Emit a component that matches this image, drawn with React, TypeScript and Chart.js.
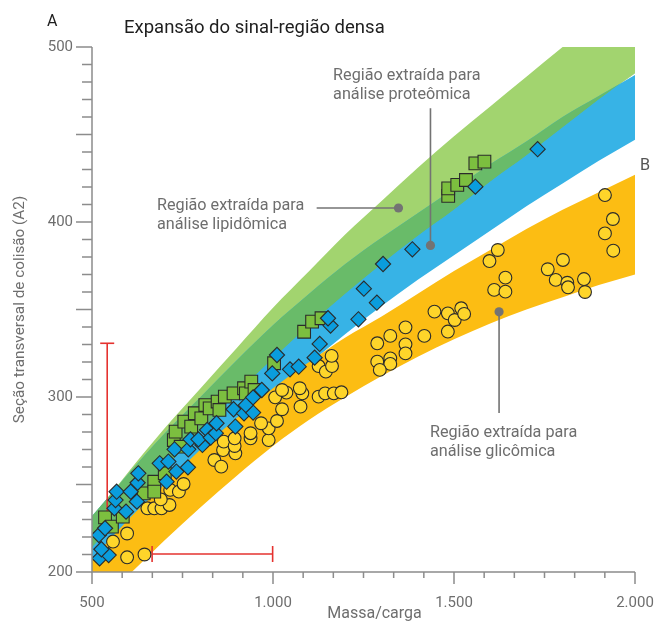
import React, { useEffect, useRef } from 'react';
import { Chart, registerables } from 'chart.js';

Chart.register(...registerables);

// Mass grid shared by every band outline
const bandMass = [500, 600, 700, 800, 900, 1000, 1100, 1200, 1300, 1400, 1500, 1600, 1700, 1800, 1900, 2000];
const lipidUpper = [231, 257, 282, 305, 328, 351, 372, 393, 412, 431, 449, 466, 483, 500, 516, 531];
const lipidLower = [214, 237, 259, 281, 302, 322, 341, 359, 376, 392, 407, 423, 438, 454, 470, 485];
const proteinUpper = [232, 256, 279, 300, 321, 341, 359, 376, 391, 405, 419, 433, 446, 460, 472, 484];
const proteinLower = [203, 224, 244, 264, 283, 301, 319, 336, 352, 367, 381, 395, 409, 422, 435, 447];
const glycanUpper = [207, 230, 250, 270, 288, 305, 320, 334, 346, 359, 372, 384, 396, 407, 417, 427];
const glycanLower = [178, 198, 218, 237, 255, 272, 287, 300, 312, 323, 333, 342, 350, 357, 364, 370];

// Lipids (squares)
const lipidMass = [536, 555, 585, 643, 672, 672, 701, 726, 745, 731, 755, 774, 784, 802, 813, 825, 847, 852, 867, 891, 920, 925, 940, 949, 1003, 1086, 1108, 1134, 1484, 1484, 1509, 1533, 1559, 1584];
const lipidCcs = [231.2, 225.9, 231.6, 244.9, 251.6, 245.9, 256.4, 275.4, 271.6, 280.2, 285.9, 283.1, 290.7, 287.8, 295.4, 293.5, 297.4, 292.6, 300.2, 302.1, 305, 302.1, 308.8, 304, 319.3, 337.3, 343.1, 345, 414.9, 419.2, 421.2, 424, 433.5, 434.5];

// Peptides (diamonds)
const peptideMass = [521, 546, 526, 519, 536, 562, 594, 565, 568, 607, 624, 626, 628, 687, 711, 733, 765, 706, 728, 766, 772, 805, 794, 818, 828, 842, 844, 891, 920, 945, 896, 925, 945, 969, 998, 1011, 1047, 1071, 1115, 1129, 1159, 1152, 1236, 1287, 1251, 1304, 1385, 1559, 1731];
const peptideCcs = [207.8, 209.7, 213, 221.1, 225, 236.4, 234.5, 241.1, 245.9, 245.9, 240.2, 251, 256.4, 262.1, 263.1, 257.4, 259.8, 251.6, 270.1, 270.1, 275.8, 272.6, 275.8, 281.2, 276.8, 279.3, 285, 293, 290.7, 291.1, 283.1, 295.4, 299.8, 304, 313.5, 324, 315.8, 317.3, 322.5, 330.3, 340.8, 345, 344.4, 353.9, 361.9, 376, 384.4, 420.2, 441.6];

// Glycans (circles)
const glycanMass = [597, 645, 558, 597, 653, 672, 692, 714, 690, 716, 740, 753, 838, 857, 862, 864, 896, 894, 894, 938, 938, 988, 988, 967, 1011, 1025, 1006, 1037, 1025, 1076, 1081, 1074, 1126, 1144, 1168, 1189, 1126, 1146, 1163, 1162, 1288, 1324, 1366, 1366, 1366, 1324, 1324, 1288, 1295, 1418, 1446, 1483, 1502, 1520, 1528, 1483, 1598, 1621, 1642, 1611, 1642, 1759, 1801, 1781, 1813, 1815, 1859, 1862, 1917, 1939, 1917, 1940];
const glycanCcs = [208.4, 210, 217.4, 222, 236.4, 236.4, 236.4, 238.3, 241.5, 246.9, 245.9, 250.3, 264, 260.2, 269.7, 274.5, 267.8, 272, 276.4, 276.4, 279.3, 275.4, 282.1, 285, 286.3, 293, 299.8, 302.5, 304, 294.5, 302.1, 305, 300.2, 302.1, 302.1, 302.7, 317.7, 314.5, 317.7, 323.5, 330.7, 334.9, 339.8, 330.1, 324.9, 322.1, 318.9, 320.2, 315.5, 334.9, 348.8, 347.8, 344, 350.7, 347.5, 337.4, 377.7, 384, 368.2, 361.2, 360.2, 373, 378.3, 366.9, 365.3, 362.7, 367.4, 360, 415.4, 401.7, 393.5, 383.6];

// Error bars
const ccsErrorMass = [542, 542];
const ccsErrorCcs = [231, 330.7];
const massErrorMass = [666, 999];
const massErrorCcs = [210.3, 210.3];

// Callout leaders (second point carries the dot)
const proteinLeaderMass = [1435, 1435];
const proteinLeaderCcs = [465, 386.6];
const lipidLeaderMass = [1120.6, 1346.6];
const lipidLeaderCcs = [408, 408];
const glycanLeaderMass = [1624.5, 1624.5];
const glycanLeaderCcs = [290.9, 348.7];

const xTicks = [500, 1000, 1500, 2000];
const yTicks = [200, 300, 400, 500];

const panelLetter = 'A';
const sideLetter = 'B';
const chartTitle = 'Expansão do sinal-região densa';
const xTitle = 'Massa/carga';
const yTitle = 'Seção transversal de colisão (A2)';

const regionLabels = [
  { lines: ['Região extraída para', 'análise proteômica'], mass: 1166, ccs: 480.9 },
  { lines: ['Região extraída para', 'análise lipidômica'], mass: 679.5, ccs: 406.6 },
  { lines: ['Região extraída para', 'análise glicômica'], mass: 1433.6, ccs: 277 },
];

const FONT = 'Roboto, "Noto Sans", sans-serif';
const AXIS_GRAY = '#8c8c8c';
const TEXT_GRAY = '#6e6e6e';
const LEADER_GRAY = '#737373';
const RED = '#e5322f';

const C = {
  lightGreen: '#a2d46f',
  darkGreen: '#69bb69',
  blue: '#37b3e6',
  orange: '#fcbd13',
  square: '#7cbf3f',
  diamond: '#0a9ddd',
  circle: '#fed52a',
  edge: '#2b2b2b',
};

const pts = (xs: number[], ys: number[]) => xs.map((x, i) => ({ x, y: ys[i] }));
const thousands = (v: number) => String(Math.round(v)).replace(/\B(?=(\d{3})+(?!\d))/g, '.');

const outline = (data: number[], order: number, fill: any = false) => ({
  type: 'line' as const,
  data: pts(bandMass, data),
  borderColor: 'rgba(0,0,0,0)',
  borderWidth: 0,
  pointRadius: 0,
  pointHoverRadius: 0,
  cubicInterpolationMode: 'monotone' as const,
  fill,
  backgroundColor: 'rgba(0,0,0,0)',
  order,
});

const leader = (xs: number[], ys: number[], order: number) => ({
  type: 'line' as const,
  data: pts(xs, ys),
  borderColor: LEADER_GRAY,
  borderWidth: 1.6,
  pointRadius: [0, 4.6],
  pointHoverRadius: [0, 4.6],
  pointBackgroundColor: LEADER_GRAY,
  pointBorderColor: LEADER_GRAY,
  pointBorderWidth: 0,
  tension: 0,
  fill: false,
  order,
});

// Axis lines with minor ticks
const axisPlugin = {
  id: 'axisMarks',
  afterDatasetsDraw(chart: any) {
    const { ctx, chartArea } = chart;
    const xs = chart.scales.x;
    const ys = chart.scales.y;
    ctx.save();
    ctx.strokeStyle = AXIS_GRAY;
    ctx.lineWidth = 1.5;
    ctx.beginPath();
    ctx.moveTo(chartArea.left, ys.getPixelForValue(ys.max));
    ctx.lineTo(chartArea.left, chartArea.bottom);
    ctx.lineTo(chartArea.right, chartArea.bottom);
    ctx.stroke();
    ctx.beginPath();
    for (let v = ys.min; v <= ys.max + 0.01; v += 10) {
      const py = ys.getPixelForValue(v);
      const len = Math.round(v) % 50 === 0 ? 16 : 10;
      ctx.moveTo(chartArea.left - len, py);
      ctx.lineTo(chartArea.left, py);
    }
    for (let i = 0; i <= 18; i++) {
      const v = xs.min + (i * 500) / 6;
      const px = xs.getPixelForValue(v);
      const len = i % 6 === 0 ? 12 : 6;
      ctx.moveTo(px, chartArea.bottom);
      ctx.lineTo(px, chartArea.bottom + len);
    }
    ctx.stroke();
    ctx.restore();
  },
};

// Titles, panel letters and region labels
const textPlugin = {
  id: 'figureText',
  afterDraw(chart: any) {
    const { ctx, chartArea } = chart;
    const xs = chart.scales.x;
    const ys = chart.scales.y;
    ctx.save();
    ctx.textAlign = 'left';
    ctx.textBaseline = 'alphabetic';
    ctx.fillStyle = '#1e1e1e';
    ctx.font = `16px ${FONT}`;
    ctx.fillText(panelLetter, 47, 25.5);
    ctx.font = `18.5px ${FONT}`;
    ctx.fillText(chartTitle, 124, 32.5);

    ctx.fillStyle = TEXT_GRAY;
    ctx.font = `16.2px ${FONT}`;
    regionLabels.forEach((l) => {
      const px = xs.getPixelForValue(l.mass);
      const py = ys.getPixelForValue(l.ccs);
      l.lines.forEach((t, i) => ctx.fillText(t, px, py + i * 18.7));
    });

    ctx.fillStyle = '#555';
    ctx.fillText(sideLetter, chartArea.right + 5, 170);

    ctx.fillStyle = TEXT_GRAY;
    ctx.font = `16px ${FONT}`;
    ctx.textAlign = 'center';
    ctx.fillText(xTitle, (chartArea.left + chartArea.right) / 2 + 11, 618);
    ctx.font = `15.3px ${FONT}`;
    ctx.translate(23.5, (chartArea.top + chartArea.bottom) / 2);
    ctx.rotate(-Math.PI / 2);
    ctx.fillText(yTitle, 0, 0);
    ctx.restore();
  },
};

export default function App() {
  const ref = useRef<HTMLCanvasElement>(null);

  useEffect(() => {
    if (!ref.current) return;
    const datasets: any[] = [
      outline(lipidLower, 1), // 0
      outline(lipidUpper, 100, { target: 0, above: C.lightGreen, below: C.lightGreen }), // 1
      outline(proteinLower, 1), // 2
      outline(proteinUpper, 90, { target: 2, above: C.blue, below: C.blue }), // 3
      outline(proteinUpper, 80, { target: 0, above: C.darkGreen, below: 'rgba(0,0,0,0)' }), // 4
      outline(glycanLower, 1), // 5
      outline(glycanUpper, 70, { target: 5, above: C.orange, below: C.orange }), // 6
      {
        type: 'line',
        data: pts(ccsErrorMass, ccsErrorCcs),
        borderColor: RED,
        borderWidth: 1.6,
        tension: 0,
        pointStyle: 'line',
        pointRadius: [0, 7],
        pointHoverRadius: [0, 7],
        pointBorderColor: RED,
        pointBorderWidth: 1.6,
        fill: false,
        order: 50,
      },
      {
        type: 'line',
        data: pts(massErrorMass, massErrorCcs),
        borderColor: RED,
        borderWidth: 1.6,
        tension: 0,
        pointStyle: 'line',
        pointRotation: 90,
        pointRadius: 8,
        pointHoverRadius: 8,
        pointBorderColor: RED,
        pointBorderWidth: 1.6,
        fill: false,
        order: 49,
      },
      leader(proteinLeaderMass, proteinLeaderCcs, 45),
      leader(lipidLeaderMass, lipidLeaderCcs, 44),
      leader(glycanLeaderMass, glycanLeaderCcs, 43),
      {
        type: 'scatter',
        data: pts(glycanMass, glycanCcs),
        pointStyle: 'circle',
        pointRadius: 6.4,
        pointHoverRadius: 6.4,
        pointBackgroundColor: C.circle,
        pointBorderColor: C.edge,
        pointBorderWidth: 1.1,
        order: 30,
      },
      {
        type: 'scatter',
        data: pts(lipidMass, lipidCcs),
        pointStyle: 'rect',
        pointRadius: 9,
        pointHoverRadius: 9,
        pointBackgroundColor: C.square,
        pointBorderColor: C.edge,
        pointBorderWidth: 1.1,
        order: 20,
      },
      {
        type: 'scatter',
        data: pts(peptideMass, peptideCcs),
        pointStyle: 'rectRot',
        pointRadius: 7.6,
        pointHoverRadius: 7.6,
        pointBackgroundColor: C.diamond,
        pointBorderColor: C.edge,
        pointBorderWidth: 1.1,
        order: 10,
      },
    ];

    const chart = new Chart(ref.current, {
      type: 'scatter',
      data: { datasets },
      options: {
        responsive: false,
        devicePixelRatio: 1,
        animation: false,
        events: [],
        layout: { padding: { left: 0, right: 30, top: 47, bottom: 0 } },
        plugins: {
          legend: { display: false },
          tooltip: { enabled: false },
          title: { display: false },
        },
        scales: {
          x: {
            type: 'linear',
            min: 500,
            max: 2000,
            border: { display: false },
            grid: { display: false, drawTicks: false },
            afterBuildTicks: (scale: any) => {
              scale.ticks = xTicks.map((value) => ({ value }));
            },
            afterFit: (scale: any) => {
              scale.height = 56;
              scale.paddingLeft = 0;
              scale.paddingRight = 0;
            },
            ticks: {
              autoSkip: false,
              maxRotation: 0,
              padding: 22,
              color: TEXT_GRAY,
              font: { family: FONT, size: 15 },
              callback: (v: any) => thousands(Number(v)),
            },
          },
          y: {
            type: 'linear',
            min: 200,
            max: 500,
            border: { display: false },
            grid: { display: false, drawTicks: false },
            afterBuildTicks: (scale: any) => {
              scale.ticks = yTicks.map((value) => ({ value }));
            },
            afterFit: (scale: any) => {
              scale.width = 92;
              scale.paddingTop = 0;
              scale.paddingBottom = 0;
            },
            ticks: {
              autoSkip: false,
              padding: 19,
              color: TEXT_GRAY,
              font: { family: FONT, size: 15 },
              callback: (v: any) => thousands(Number(v)),
            },
          },
        },
      },
      plugins: [axisPlugin, textPlugin],
    } as any);

    return () => chart.destroy();
  }, []);

  return (
    <div style={{ position: 'absolute', left: 0, top: 0, width: 665, height: 628, background: '#ffffff' }}>
      <canvas ref={ref} width={665} height={628} style={{ display: 'block', width: 665, height: 628 }} />
    </div>
  );
}
